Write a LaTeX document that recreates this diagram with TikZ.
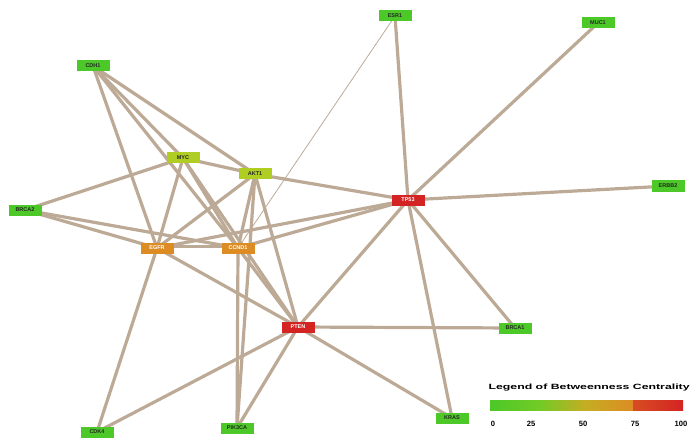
\documentclass[tikz,border=0pt]{standalone}
\usepackage{fontspec}
\setmainfont{Liberation Sans}
\usetikzlibrary{backgrounds}
\definecolor{edgec}{RGB}{188,170,150}
\definecolor{gA}{RGB}{76,200,40}
\definecolor{yA}{RGB}{175,205,35}
\definecolor{oA}{RGB}{220,140,35}
\definecolor{rA}{RGB}{212,35,35}
\tikzset{
  gene/.style={rectangle, minimum width=33pt, minimum height=11pt, inner sep=1pt,
    font=\fontsize{5.5}{6}\selectfont\bfseries, text=black!85},
  gnode/.style={gene, fill=gA},
  ynode/.style={gene, fill=yA},
  onode/.style={gene, fill=oA, text=white},
  rnode/.style={gene, fill=rA, text=white},
  link/.style={draw=edgec, line width=3.2pt},
  thinlink/.style={draw=edgec, line width=0.8pt},
  legtxt/.style={font=\fontsize{7.6}{9}\selectfont\bfseries, inner sep=0pt}
}
\begin{document}
\begin{tikzpicture}[x=1pt,y=-1pt]
\useasboundingbox (0,0) rectangle (691,441);
\node[gnode] (A)  at (93,66)   {CDH1};
\node[gnode] (T)  at (395,16)  {ESR1};
\node[gnode] (TR) at (598,23)  {MUC1};
\node[gnode] (RG) at (668,186) {ERBB2};
\node[gnode] (L)  at (25,210)  {BRCA2};
\node[ynode] (Y1) at (183,158) {MYC};
\node[ynode] (Y2) at (255,174) {AKT1};
\node[onode] (O1) at (157,248) {EGFR};
\node[onode] (O2) at (238,248) {CCND1};
\node[rnode] (R1) at (408,200) {TP53};
\node[rnode] (R2) at (298,327) {PTEN};
\node[gnode] (G12) at (515,328) {BRCA1};
\node[gnode] (BR) at (452,418) {KRAS};
\node[gnode] (BL) at (97,432)  {CDK4};
\node[gnode] (BM) at (237,428) {PIK3CA};
\begin{scope}[on background layer]
\foreach \a/\b in {A/Y1, A/Y2, A/O1, A/O2, L/Y1, L/O1, L/O2,
  Y1/O1, Y1/O2, Y1/R2, Y1/Y2, Y2/R1, Y2/O1, Y2/O2, Y2/R2, Y2/BM,
  O1/R1, O1/R2, O1/BL, O2/R1, O2/R2, O2/BM,
  R1/T, R1/TR, R1/RG, R1/R2, R1/G12, R1/BR,
  R2/G12, R2/BR, R2/BL, R2/BM}
  \draw[link] (\a.center) -- (\b.center);
\draw[link, transform canvas={yshift=1.5pt}] (O1.center) -- (O2.center);
\draw[thinlink] (T.center) -- (O2.center);
\end{scope}
% legend
\begin{scope}[shift={(690,388)}, xscale=1.62]
\node[legtxt, anchor=east, transform shape] (lt) at (0,0) {Legend of Betweenness Centrality};
\end{scope}
\coordinate (b0) at (490,400);
\coordinate (b1) at (540,410);
\coordinate (b2) at (586,400);
\coordinate (b3) at (633,410);
\coordinate (b4) at (683,400);
\shade[left color=gA, right color=gA!60!yA] (b0) rectangle (b1);
\shade[left color=gA!60!yA, right color=yA!50!oA] (b1 |- b0) rectangle (b2 |- b1);
\shade[left color=yA!50!oA, right color=oA] (b2) rectangle (b3);
\shade[left color=oA!40!rA, right color=rA] (b3 |- b0) rectangle (b4 |- b1);
\node[legtxt] (t0) at (493,424) {0};
\node[legtxt] (t1) at (531,424) {25};
\node[legtxt] (t2) at (583,424) {50};
\node[legtxt] (t3) at (635,424) {75};
\node[legtxt] (t4) at (681,424) {100};
\end{tikzpicture}
\end{document}
